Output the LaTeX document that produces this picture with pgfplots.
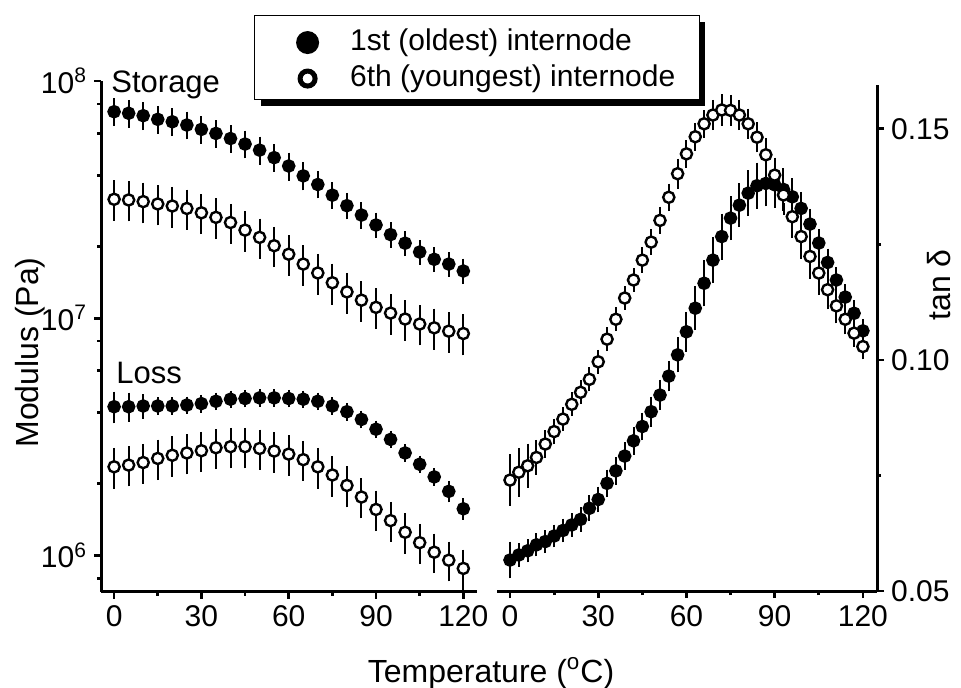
\documentclass[border=0pt]{standalone}
\usepackage{fontspec}
\setmainfont{Liberation Sans}
\usepackage{pgfplots}
\pgfplotsset{compat=1.18}
\usepackage{pgfplotstable}
\usetikzlibrary{shadows}

% Storage and loss modulus (Pa) with standard deviations
\pgfplotstableread{
T S1 eS1 S6 eS6 L1 eL1 L6 eL6
0 7.42e7 7.4e6 3.17e7 5.1e6 4.23e6 5.0e5 2.36e6 3.8e5
5 7.31e7 7.3e6 3.15e7 5.0e6 4.23e6 4.5e5 2.40e6 3.8e5
10 7.14e7 7.1e6 3.10e7 5.0e6 4.26e6 3.6e5 2.46e6 3.9e5
15 6.89e7 6.9e6 3.03e7 4.8e6 4.26e6 2.1e5 2.56e6 4.1e5
20 6.73e7 6.7e6 2.97e7 4.8e6 4.26e6 2.1e5 2.64e6 4.2e5
25 6.52e7 6.5e6 2.90e7 4.6e6 4.30e6 2.1e5 2.70e6 4.3e5
30 6.25e7 6.2e6 2.78e7 4.4e6 4.36e6 2.2e5 2.76e6 4.4e5
35 6.01e7 6.0e6 2.66e7 4.3e6 4.46e6 2.2e5 2.84e6 4.5e5
40 5.72e7 5.7e6 2.53e7 4.0e6 4.55e6 2.3e5 2.87e6 4.6e5
45 5.42e7 5.4e6 2.35e7 3.8e6 4.58e6 2.3e5 2.87e6 4.6e5
50 5.11e7 5.1e6 2.19e7 3.5e6 4.61e6 2.3e5 2.82e6 4.5e5
55 4.75e7 4.7e6 2.02e7 3.2e6 4.61e6 2.3e5 2.75e6 4.4e5
60 4.38e7 4.4e6 1.86e7 3.0e6 4.58e6 2.3e5 2.67e6 4.3e5
65 3.98e7 4.0e6 1.69e7 2.7e6 4.55e6 2.3e5 2.53e6 4.0e5
70 3.66e7 3.5e6 1.55e7 2.5e6 4.46e6 2.2e5 2.36e6 3.8e5
75 3.30e7 3.1e6 1.41e7 2.3e6 4.26e6 2.1e5 2.18e6 3.5e5
80 2.98e7 2.8e6 1.29e7 2.1e6 4.03e6 2.0e5 1.97e6 3.2e5
85 2.72e7 2.5e6 1.19e7 1.9e6 3.74e6 1.9e5 1.76e6 2.8e5
90 2.47e7 2.2e6 1.11e7 1.8e6 3.40e6 1.7e5 1.56e6 2.5e5
95 2.25e7 2.0e6 1.05e7 1.7e6 3.08e6 1.5e5 1.40e6 2.2e5
100 2.07e7 1.8e6 9.91e6 1.6e6 2.70e6 1.4e5 1.25e6 2.0e5
105 1.90e7 1.6e6 9.44e6 1.5e6 2.42e6 1.2e5 1.13e6 1.8e5
110 1.77e7 1.5e6 9.10e6 1.5e6 2.14e6 1.1e5 1.03e6 1.6e5
115 1.69e7 1.4e6 8.81e6 1.4e6 1.86e6 1.3e5 9.53e5 1.5e5
120 1.58e7 1.4e6 8.61e6 1.4e6 1.57e6 1.1e5 8.80e5 1.4e5
}\modulus

% Loss tangent with standard deviations
\pgfplotstableread{
T F eF Y eY
0 0.0567 0.0032 0.0740 0.0048
3 0.0578 0.0018 0.0757 0.0045
6 0.0587 0.0017 0.0771 0.0040
9 0.0600 0.0017 0.0789 0.0030
12 0.0607 0.0017 0.0818 0.0022
15 0.0619 0.0017 0.0845 0.0020
18 0.0631 0.0018 0.0872 0.0018
21 0.0643 0.0018 0.0904 0.0018
24 0.0655 0.0019 0.0930 0.0018
27 0.0679 0.0020 0.0958 0.0018
30 0.0698 0.0020 0.0996 0.0018
33 0.0733 0.0022 0.1045 0.0018
36 0.0760 0.0022 0.1088 0.0018
39 0.0792 0.0022 0.1134 0.0018
42 0.0825 0.0022 0.1173 0.0018
45 0.0856 0.0022 0.1216 0.0020
48 0.0888 0.0025 0.1255 0.0020
51 0.0924 0.0025 0.1302 0.0022
54 0.0965 0.0025 0.1352 0.0022
57 0.1011 0.0030 0.1403 0.0025
60 0.1061 0.0035 0.1446 0.0022
63 0.1112 0.0040 0.1483 0.0022
66 0.1166 0.0042 0.1511 0.0022
69 0.1216 0.0042 0.1530 0.0025
72 0.1267 0.0042 0.1541 0.0026
75 0.1307 0.0040 0.1540 0.0026
78 0.1335 0.0040 0.1530 0.0025
81 0.1361 0.0042 0.1511 0.0025
84 0.1377 0.0042 0.1482 0.0025
87 0.1382 0.0042 0.1444 0.0028
90 0.1379 0.0042 0.1400 0.0030
93 0.1369 0.0038 0.1357 0.0035
96 0.1353 0.0032 0.1310 0.0038
99 0.1328 0.0028 0.1267 0.0040
102 0.1294 0.0025 0.1224 0.0040
105 0.1253 0.0022 0.1188 0.0040
108 0.1211 0.0022 0.1152 0.0035
111 0.1173 0.0020 0.1117 0.0030
114 0.1136 0.0020 0.1088 0.0025
117 0.1101 0.0020 0.1058 0.0022
120 0.1063 0.0018 0.1029 0.0020
}\tandelta

\pgfplotsset{
  panel/.style={
    scale only axis,
    axis x line*=bottom,
    axis line style={line width=1.5pt, -},
    tick style={line width=1.4pt, black},
    major tick length=3.5pt, minor tick length=2pt,
    tick align=outside,
    xtick={0,30,60,90,120}, xticklabels={0,30,60,90,120},
    minor xtick={15,45,75,105},
    tick label style={font=\fontsize{15}{18}\selectfont},
  },
  bars/.style={
    error bars/y dir=both, error bars/y explicit,
    error bars/error bar style={line width=1pt, black, solid},
    error bars/error mark=-,
    error bars/error mark options={line width=1pt, mark size=1.8pt, black, solid},
  },
  full/.style={only marks, mark=*, mark size=2.8pt, bars,
    mark options={fill=black, draw=black, line width=1.2pt}},
  hollow/.style={only marks, mark=*, mark size=2.8pt, bars,
    mark options={fill=white, draw=black, line width=1.2pt}},
  % legend symbols: an empty box fixes the size of the symbol cell
  key full/.style={legend image code/.code={
    \node[anchor=center, inner sep=0pt, minimum width=20.25pt, minimum height=18pt] at (-4.375pt,1.5pt) {};
    \node[anchor=center, circle, fill=black, inner sep=0pt, minimum size=11.5pt] at (0pt,0pt) {};}},
  key hollow/.style={legend image code/.code={
    \node[anchor=center, inner sep=0pt, minimum width=20.25pt, minimum height=18pt] at (-4.375pt,1.5pt) {};
    \node[anchor=center, circle, draw=black, line width=2.5pt, fill=white, inner sep=0pt, minimum size=7.5pt] at (0pt,0pt) {};}},
}

\begin{document}
\begin{tikzpicture}
\useasboundingbox (0pt,0pt) rectangle (480.5pt,343.5pt);

% storage and loss modulus
\begin{axis}[panel,
  at={(50.5pt,47.5pt)}, anchor=south west,
  width=188pt, height=255.5pt,
  xmin=-4.5, xmax=124.7,
  ymode=log, ymin=7e5, ymax=1e8,
  axis y line*=left,
  ytick={1e6,1e7,1e8},
  yticklabels={10\textsuperscript{6},10\textsuperscript{7},10\textsuperscript{8}},
  minor ytick={8e5,2e6,4e6,6e6,8e6,2e7,4e7,6e7,8e7},
  legend cell align=left,
  legend style={at={(0.4069,1.1292)}, anchor=north west,
    draw=black, line width=0.6pt, fill=white,
    drop shadow={shadow xshift=3pt, shadow yshift=-3pt, fill=black, opacity=1},
    inner xsep=12pt, inner ysep=3pt, row sep=0pt,
    font=\fontsize{15}{18}\selectfont,
    /tikz/every odd column/.append style={column sep=15.5pt}},
]
\addplot[full, key full] table[x=T, y=S1, y error=eS1] {\modulus};
\addlegendentry[text height=11.5pt, text depth=3.5pt, inner sep=0pt]{1st (oldest) internode}
\addplot[hollow, key hollow] table[x=T, y=S6, y error=eS6] {\modulus};
\addlegendentry[text height=11.5pt, text depth=3.5pt, inner sep=0pt]{6th (youngest) internode}
\addplot[full, forget plot] table[x=T, y=L1, y error=eL1] {\modulus};
\addplot[hollow, forget plot] table[x=T, y=L6, y error=eL6] {\modulus};
\end{axis}

% loss tangent
\begin{axis}[panel,
  at={(248.5pt,48pt)}, anchor=south west,
  width=190pt, height=253pt,
  xmin=-4.42, xmax=124.8,
  ymin=0.05, ymax=0.1595,
  axis y line*=right,
  ytick={0.05,0.10,0.15}, yticklabels={0.05,0.10,0.15},
  minor ytick={0.075,0.125},
]
\addplot[full] table[x=T, y=F, y error=eF] {\tandelta};
\addplot[hollow] table[x=T, y=Y, y error=eY] {\tandelta};
\end{axis}

\node[anchor=base west, inner sep=0pt, font=\fontsize{15.5}{18}\selectfont]
  at (55.5pt,297.5pt) {Storage};
\node[anchor=base west, inner sep=0pt, font=\fontsize{15.5}{18}\selectfont]
  at (58pt,152pt) {Loss};
\node[anchor=base, inner sep=0pt, font=\fontsize{16}{19}\selectfont]
  at (245.5pt,2.5pt) {Temperature (\textsuperscript{o}C)};
\node[rotate=90, anchor=base, inner sep=0pt, font=\fontsize{16}{19}\selectfont]
  at (19pt,167.25pt) {Modulus (Pa)};
\node[rotate=90, anchor=base, inner sep=0pt, font=\fontsize{16}{19}\selectfont]
  at (475pt,201pt) {tan δ};
\end{tikzpicture}
\end{document}
